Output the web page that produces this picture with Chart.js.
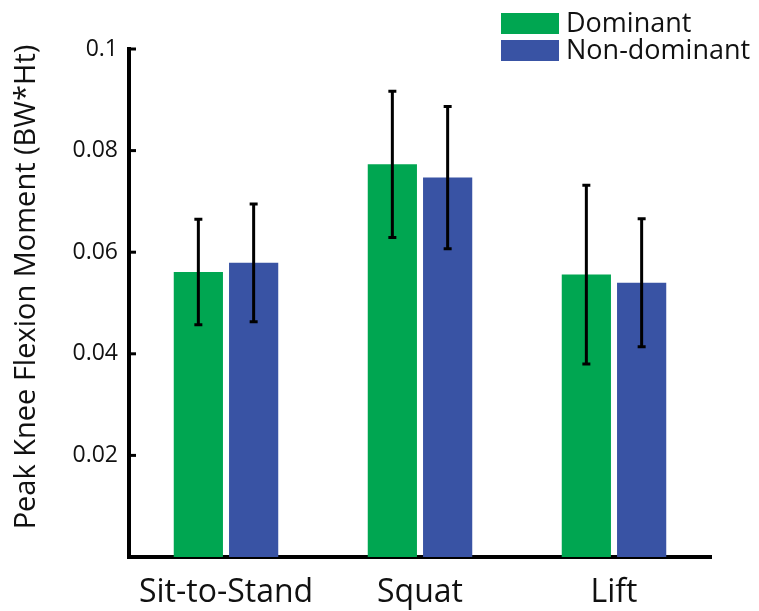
<!DOCTYPE html>
<html>
<head>
<meta charset="utf-8">
<script src="https://cdn.jsdelivr.net/npm/chart.js@4.4.1/dist/chart.umd.min.js"></script>
<style>
  html, body { margin: 0; padding: 0; background: #fff; }
  #wrap { width: 759px; height: 611px; position: relative; }
</style>
</head>
<body>
<div id="wrap"><canvas id="chart"></canvas></div>
<script>
// data
const categories = ["Sit-to-Stand", "Squat", "Lift"];
const seriesNames = ["Dominant", "Non-dominant"];
const dominant = [0.0561, 0.0773, 0.0556];
const nonDominant = [0.0579, 0.0747, 0.0540];
// error bar half-lengths (symmetric)
const dominantErr = [0.0104, 0.0144, 0.0176];
const nonDominantErr = [0.0116, 0.0140, 0.0126];
const yTicks = [0, 0.02, 0.04, 0.06, 0.08, 0.1];
const yTitle = "Peak Knee Flexion Moment (BW*Ht)";

const green = "#00a651";
const blue = "#3953a4";
const font = "'Open Sans', 'Noto Sans', sans-serif";

// error bars, inward y ticks, legend and y title
const extras = {
  id: "extras",
  afterDraw(chart) {
    const ctx = chart.ctx;
    const y = chart.scales.y;
    const errs = [dominantErr, nonDominantErr];
    ctx.save();
    ctx.strokeStyle = "#000";
    ctx.lineWidth = 3;
    chart.data.datasets.forEach((ds, i) => {
      const meta = chart.getDatasetMeta(i);
      meta.data.forEach((bar, j) => {
        const top = y.getPixelForValue(ds.data[j] + errs[i][j]);
        const bot = y.getPixelForValue(ds.data[j] - errs[i][j]);
        ctx.beginPath();
        ctx.moveTo(bar.x, top);
        ctx.lineTo(bar.x, bot);
        ctx.moveTo(bar.x - 4, top);
        ctx.lineTo(bar.x + 4, top);
        ctx.moveTo(bar.x - 4, bot);
        ctx.lineTo(bar.x + 4, bot);
        ctx.stroke();
      });
    });
    // ticks pointing into the plot
    const left = chart.chartArea.left;
    yTicks.slice(1).forEach(v => {
      const py = y.getPixelForValue(v);
      ctx.beginPath();
      ctx.moveTo(left, py);
      ctx.lineTo(left + 7, py);
      ctx.stroke();
    });
    // legend
    ctx.font = "27px " + font;
    ctx.textBaseline = "middle";
    chart.data.datasets.forEach((ds, i) => {
      const by = 13 + i * 27;
      ctx.fillStyle = ds.backgroundColor;
      ctx.fillRect(501, by, 58, 21);
      ctx.fillStyle = "#111";
      ctx.fillText(ds.label, 566, by + 11);
    });
    // y axis title (sits a bit above the axis centre in the original)
    ctx.translate(27, 287);
    ctx.rotate(-Math.PI / 2);
    ctx.textAlign = "center";
    ctx.font = "29px " + font;
    ctx.fillText(yTitle, 0, 0);
    ctx.restore();
  }
};

new Chart(document.getElementById("chart"), {
  type: "bar",
  data: {
    labels: categories,
    datasets: [
      { label: seriesNames[0], data: dominant, backgroundColor: green },
      { label: seriesNames[1], data: nonDominant, backgroundColor: blue }
    ]
  },
  options: {
    responsive: true,
    maintainAspectRatio: false,
    animation: false,
    categoryPercentage: 0.57,
    barPercentage: 0.89,
    layout: { padding: { top: 49, right: 48, left: 0, bottom: 0 } },
    plugins: {
      legend: { display: false },
      tooltip: { enabled: false }
    },
    scales: {
      x: {
        z: 1,
        grid: { display: false },
        border: { display: true, color: "#000", width: 4 },
        ticks: { color: "#111", font: { family: font, size: 32 }, padding: 9 },
        afterFit(scale) { scale.height = 54; }
      },
      y: {
        z: 1,
        min: 0,
        max: 0.1,
        afterBuildTicks(scale) { scale.ticks = yTicks.map(v => ({ value: v })); },
        grid: { display: false },
        border: { display: true, color: "#000", width: 4 },
        ticks: {
          color: "#111",
          font: { family: font, size: 23 },
          padding: 3,
          callback: v => (v === 0 ? "" : String(+v.toFixed(2)))
        },
        afterFit(scale) { scale.width = 129; }
      }
    }
  },
  plugins: [extras]
});
</script>
</body>
</html>
